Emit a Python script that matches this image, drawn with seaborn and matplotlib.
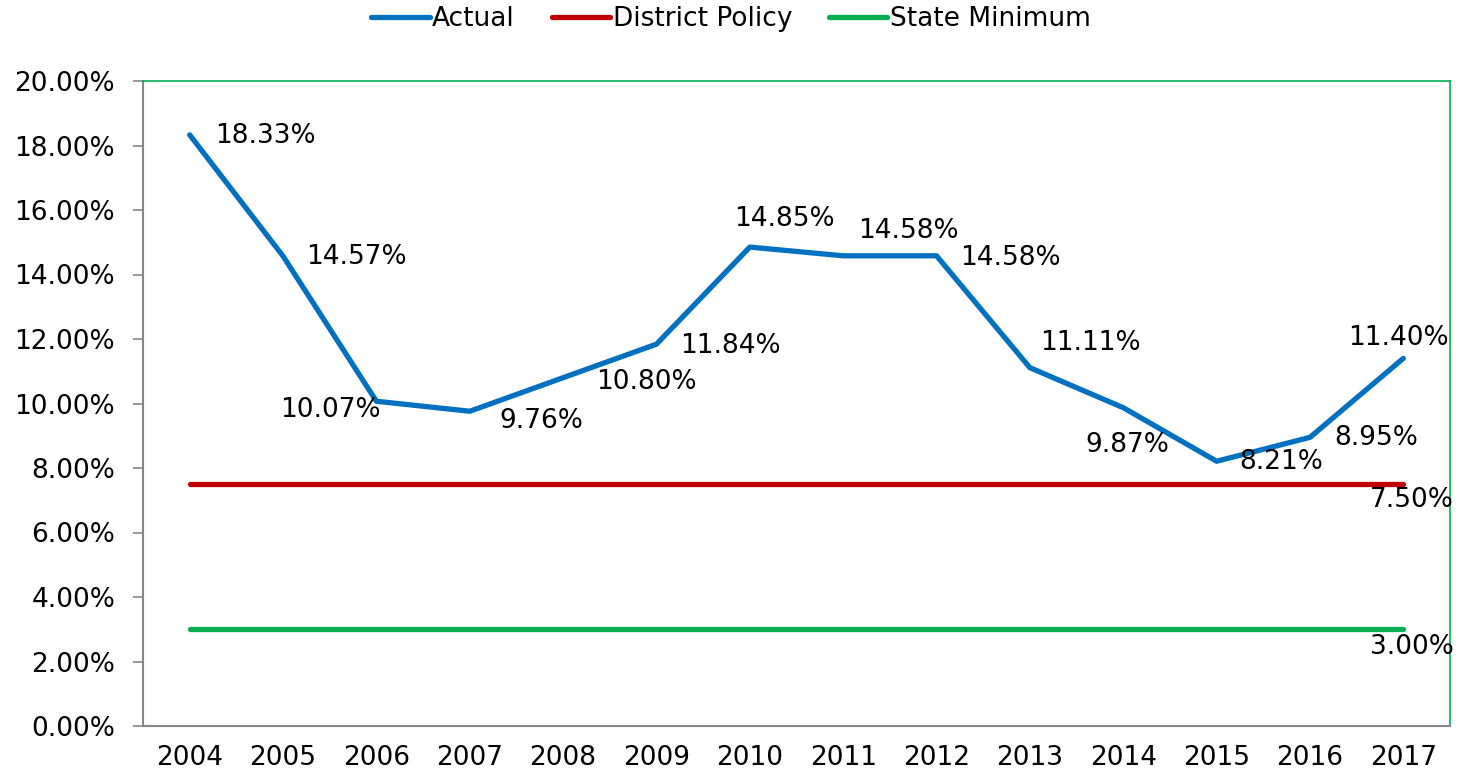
import numpy as np
import pandas as pd
import seaborn as sns
import matplotlib.pyplot as plt
from matplotlib.ticker import FuncFormatter

# chart values (percent)
years = ['2004', '2005', '2006', '2007', '2008', '2009', '2010',
         '2011', '2012', '2013', '2014', '2015', '2016', '2017']
actual = [18.33, 14.57, 10.07, 9.76, 10.80, 11.84, 14.85,
          14.58, 14.58, 11.11, 9.87, 8.21, 8.95, 11.40]
district_policy = [7.50] * len(years)
state_minimum = [3.00] * len(years)

# label offsets in pixels (dx to text left edge, dy to text centre)
actual_offsets = [(25, -1), (23, -1), (-96, -9), (30, -10), (33, -4), (24, -2), (-16, 28),
                  (15, 25), (24, -2), (10, 25), (-38, -37), (23, -1), (24, -1), (-55, 20)]

sns.set_style('white')
plt.rcParams['font.family'] = ['DejaVu Sans']

df = pd.DataFrame({'pos': np.arange(len(years)), 'Actual': actual,
                   'District Policy': district_policy, 'State Minimum': state_minimum})

fig = plt.figure(figsize=(14.75, 7.74), dpi=100)
ax = fig.add_axes([143 / 1475, 1 - 726 / 774, (1450 - 143) / 1475, (726 - 81) / 774])

colors = {'Actual': '#0070C0', 'District Policy': '#C00000', 'State Minimum': '#00B050'}
for name in ['Actual', 'District Policy', 'State Minimum']:
    sns.lineplot(data=df, x='pos', y=name, ax=ax, color=colors[name], lw=3.8,
                 label=name, solid_capstyle='round')

fs = 19
for i, v in enumerate(actual):
    dx, dy = actual_offsets[i]
    ax.annotate(f'{v:.2f}%', (i, v), xytext=(dx, dy), textcoords='offset pixels',
                ha='left', va='center', fontsize=fs, color='black')
last = len(years) - 1
ax.annotate(f'{district_policy[-1]:.2f}%', (last, district_policy[-1]), xytext=(-33, -16),
            textcoords='offset pixels', ha='left', va='center', fontsize=fs, color='black')
ax.annotate(f'{state_minimum[-1]:.2f}%', (last, state_minimum[-1]), xytext=(-33, -18),
            textcoords='offset pixels', ha='left', va='center', fontsize=fs, color='black')

ax.set_xlim(-0.5, len(years) - 0.5)
ax.set_ylim(0, 20)
ax.set_xticks(range(len(years)))
ax.set_xticklabels(years)
ax.set_yticks(np.arange(0, 20.1, 2))
ax.yaxis.set_major_formatter(FuncFormatter(lambda v, p: f'{v:.2f}%'))
ax.set_xlabel('')
ax.set_ylabel('')
ax.tick_params(axis='y', which='major', left=True, length=7, width=1.2, color='#868686',
               labelsize=fs, labelcolor='black', pad=13)
ax.tick_params(axis='x', bottom=False, labelsize=fs, labelcolor='black', pad=10)

for side in ['left', 'bottom']:
    ax.spines[side].set_color('#868686')
    ax.spines[side].set_linewidth(1.5)
for side in ['top', 'right']:
    ax.spines[side].set_color('#00B050')
    ax.spines[side].set_linewidth(1.2)

ax.get_legend().remove()
handles, labels = ax.get_legend_handles_labels()
leg = fig.legend(handles, labels, loc='center', bbox_to_anchor=(731 / 1475, 1 - 19 / 774),
                 ncol=3, frameon=False, fontsize=fs, handlelength=2.2, handletextpad=0.1,
                 columnspacing=1.4)
for t in leg.get_texts():
    t.set_color('black')

fig.savefig('out.png', dpi=100)
